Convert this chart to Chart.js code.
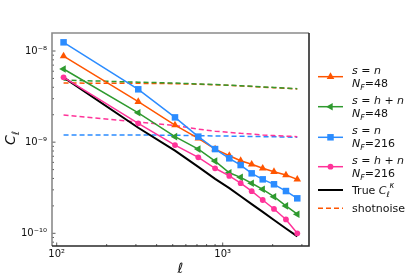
<!DOCTYPE html>
<html>
<head>
<meta charset="utf-8">
<script src="https://cdn.jsdelivr.net/npm/chart.js@4.4.1/dist/chart.umd.min.js"></script>
<style>
  html, body { margin: 0; padding: 0; background: #fff; }
  #wrap { width: 415px; height: 277px; position: relative; }
</style>
</head>
<body>
<div id="wrap"><canvas id="chart" width="415" height="277"></canvas></div>
<script>
// multipole bins
const ells = [110, 310, 516, 713, 900, 1096, 1283, 1495, 1742, 2037, 2405, 2814];

// estimated power spectra
const snNF48 = [8.8e-9, 2.78e-9, 1.54e-9, 1.10e-9, 8.4e-10, 7.1e-10, 6.26e-10, 5.72e-10, 5.17e-10, 4.74e-10, 4.36e-10, 3.91e-10];
const shnNF48 = [6.35e-9, 2.10e-9, 1.15e-9, 8.4e-10, 6.2e-10, 4.62e-10, 4.11e-10, 3.54e-10, 3.04e-10, 2.52e-10, 2.0e-10, 1.62e-10];
const snNF216 = [1.245e-8, 3.80e-9, 1.87e-9, 1.15e-9, 8.4e-10, 6.65e-10, 5.61e-10, 4.55e-10, 3.91e-10, 3.45e-10, 2.91e-10, 2.42e-10];
const shnNF216 = [5.14e-9, 1.61e-9, 9.3e-10, 6.82e-10, 5.17e-10, 4.26e-10, 3.55e-10, 2.9e-10, 2.32e-10, 1.85e-10, 1.42e-10, 1.0e-10];
const trueCl = [5.14e-9, 1.44e-9, 8.07e-10, 5.36e-10, 3.96e-10, 3.13e-10, 2.55e-10, 2.09e-10, 1.72e-10, 1.40e-10, 1.13e-10, 9.25e-11];

// shot noise levels
const noiseSnNF48 = [4.45e-9, 4.42e-9, 4.38e-9, 4.32e-9, 4.26e-9, 4.2e-9, 4.14e-9, 4.08e-9, 4.02e-9, 3.96e-9, 3.9e-9, 3.84e-9];
const noiseShnNF48 = [4.8e-9, 4.55e-9, 4.45e-9, 4.35e-9, 4.28e-9, 4.22e-9, 4.16e-9, 4.1e-9, 4.04e-9, 3.98e-9, 3.92e-9, 3.86e-9];
const noiseSnNF216 = [1.2e-9, 1.2e-9, 1.19e-9, 1.18e-9, 1.17e-9, 1.165e-9, 1.16e-9, 1.155e-9, 1.15e-9, 1.145e-9, 1.14e-9, 1.13e-9];
const noiseShnNF216 = [1.99e-9, 1.66e-9, 1.52e-9, 1.39e-9, 1.32e-9, 1.28e-9, 1.25e-9, 1.23e-9, 1.2e-9, 1.18e-9, 1.165e-9, 1.15e-9];

// tick labels
const xMajor = [100, 1000];
const xMajorLabels = ['10²', '10³'];
const xMinor = [200, 300, 400, 500, 600, 700, 800, 900, 2000, 3000];
const yMajor = [1e-8, 1e-9, 1e-10];
const yMajorLabels = ['10⁻⁸', '10⁻⁹', '10⁻¹⁰'];

const ORANGE = '#ff5500';
const GREEN = '#2f9a2f';
const BLUE = '#2b8cff';
const PINK = '#ff3399';

function pts(arr) {
    return ells.map((l, i) => ({x: l, y: arr[i]}));
}

function yMinorTicks() {
    let out = [];
    [1e-10, 1e-9].forEach(d => {
        for (let k = 2; k <= 9; k++) out.push(k * d);
    });
    out.push(8e-11, 9e-11);
    return out;
}

function solid(data, color, style, rot, r, order) {
    return {
        data: pts(data), borderColor: color, backgroundColor: color,
        borderWidth: 1.5, pointStyle: style, pointRotation: rot,
        pointRadius: r, pointBorderWidth: 0, tension: 0, order: order
    };
}
function dashed(data, color, order) {
    return {
        data: pts(data), borderColor: color, borderWidth: 1.5,
        borderDash: [5, 3], pointRadius: 0, tension: 0, order: order
    };
}

// draw mixed italic / sub / sup text
function rich(ctx, x, y, parts, size) {
    parts.forEach(p => {
        let s = (p.sub || p.sup) ? size * 0.72 : size;
        ctx.font = (p.i ? 'italic ' : '') + s + 'px "DejaVu Sans"';
        let dy = p.sub ? size * 0.28 : (p.sup ? -size * 0.42 : 0);
        ctx.fillText(p.t, x, y + dy);
        x += ctx.measureText(p.t).width;
    });
}

const legendItems = [
    {color: ORANGE, style: 'triangle', rot: 0, r: 4.4, l1: [{t: 's', i: 1}, {t: ' = '}, {t: 'n', i: 1}], l2: [{t: 'N', i: 1}, {t: 'F', i: 1, sub: 1}, {t: '=48'}], y: 76.7},
    {color: GREEN, style: 'triangle', rot: -90, r: 4.4, l1: [{t: 's', i: 1}, {t: ' = '}, {t: 'h', i: 1}, {t: ' + '}, {t: 'n', i: 1}], l2: [{t: 'N', i: 1}, {t: 'F', i: 1, sub: 1}, {t: '=48'}], y: 106.7},
    {color: BLUE, style: 'rect', rot: 0, r: 4.6, l1: [{t: 's', i: 1}, {t: ' = '}, {t: 'n', i: 1}], l2: [{t: 'N', i: 1}, {t: 'F', i: 1, sub: 1}, {t: '=216'}], y: 137.3},
    {color: PINK, style: 'circle', rot: 0, r: 2.9, l1: [{t: 's', i: 1}, {t: ' = '}, {t: 'h', i: 1}, {t: ' + '}, {t: 'n', i: 1}], l2: [{t: 'N', i: 1}, {t: 'F', i: 1, sub: 1}, {t: '=216'}], y: 166.7}
];

const decor = {
    id: 'decor',
    afterDraw(chart) {
        const ctx = chart.ctx;
        const a = chart.chartArea;
        const xs = chart.scales.x, ys = chart.scales.y;
        ctx.save();
        // inward ticks
        ctx.strokeStyle = '#333';
        ctx.lineWidth = 0.8;
        ctx.beginPath();
        xMajor.forEach(v => { let p = xs.getPixelForValue(v); ctx.moveTo(p, a.bottom); ctx.lineTo(p, a.bottom - 3.5); });
        xMinor.forEach(v => { let p = xs.getPixelForValue(v); ctx.moveTo(p, a.bottom); ctx.lineTo(p, a.bottom - 2); });
        yMajor.forEach(v => { let p = ys.getPixelForValue(v); ctx.moveTo(a.left, p); ctx.lineTo(a.left + 3.5, p); });
        yMinorTicks().forEach(v => { let p = ys.getPixelForValue(v); if (p > a.top && p < a.bottom) { ctx.moveTo(a.left, p); ctx.lineTo(a.left + 2, p); } });
        ctx.stroke();
        // frame
        ctx.lineWidth = 1.6;
        ctx.strokeStyle = '#8a8a8a';
        ctx.beginPath();
        ctx.moveTo(a.left, a.bottom); ctx.lineTo(a.left, a.top); ctx.lineTo(a.right, a.top);
        ctx.stroke();
        ctx.strokeStyle = '#2a2a2a';
        ctx.beginPath();
        ctx.moveTo(a.right, a.top); ctx.lineTo(a.right, a.bottom); ctx.lineTo(a.left, a.bottom);
        ctx.stroke();

        // axis titles
        ctx.fillStyle = '#111';
        ctx.textBaseline = 'alphabetic';
        ctx.textAlign = 'left';
        ctx.font = 'italic 14px "DejaVu Sans"';
        let w = ctx.measureText('ℓ').width;
        ctx.fillText('ℓ', (a.left + a.right) / 2 - w / 2, 273);
        ctx.save();
        ctx.translate(15, 145);
        ctx.rotate(-Math.PI / 2);
        rich(ctx, 0, 0, [{t: 'C', i: 1}, {t: 'ℓ', i: 1, sub: 1}], 14);
        ctx.restore();

        // legend
        const x0 = 318, x1 = 343, tx = 352, fs = 11;
        legendItems.forEach(it => {
            ctx.strokeStyle = it.color;
            ctx.lineWidth = 1.5;
            ctx.setLineDash([]);
            ctx.beginPath(); ctx.moveTo(x0, it.y); ctx.lineTo(x1, it.y); ctx.stroke();
            ctx.fillStyle = it.color;
            Chart.helpers.drawPoint(ctx, {pointStyle: it.style, rotation: it.rot, radius: it.r, borderWidth: 0}, (x0 + x1) / 2, it.y);
            ctx.fillStyle = '#111';
            rich(ctx, tx, it.y - 3.2, it.l1, fs);
            rich(ctx, tx, it.y + 9.8, it.l2, fs);
        });
        ctx.strokeStyle = '#000';
        ctx.lineWidth = 2;
        ctx.beginPath(); ctx.moveTo(x0, 190); ctx.lineTo(x1, 190); ctx.stroke();
        ctx.fillStyle = '#111';
        rich(ctx, tx, 194, [{t: 'True '}, {t: 'C', i: 1}, {t: 'ℓ', i: 1, sub: 1}], fs);
        ctx.font = 'italic 8px "DejaVu Sans"';
        ctx.fillText('κ', tx + 37.5, 188);
        ctx.strokeStyle = ORANGE;
        ctx.lineWidth = 1.5;
        ctx.setLineDash([5, 3]);
        ctx.beginPath(); ctx.moveTo(x0, 208.3); ctx.lineTo(x1, 208.3); ctx.stroke();
        ctx.setLineDash([]);
        ctx.font = fs + 'px "DejaVu Sans"';
        ctx.fillText('shotnoise', tx, 212.3);
        ctx.restore();
    }
};

new Chart(document.getElementById('chart').getContext('2d'), {
    type: 'line',
    data: {
        datasets: [
            solid(shnNF216, PINK, 'circle', 0, 2.9, 1),
            solid(snNF216, BLUE, 'rect', 0, 4.6, 2),
            solid(shnNF48, GREEN, 'triangle', -90, 4.4, 3),
            solid(snNF48, ORANGE, 'triangle', 0, 4.4, 4),
            {data: pts(trueCl), borderColor: '#000', borderWidth: 2, pointRadius: 0, tension: 0, order: 5},
            dashed(noiseShnNF48, GREEN, 6),
            dashed(noiseSnNF48, ORANGE, 7),
            dashed(noiseShnNF216, PINK, 8),
            dashed(noiseSnNF216, BLUE, 9)
        ]
    },
    options: {
        responsive: false,
        animation: false,
        layout: {padding: {left: 0, right: 106, top: 33, bottom: 0}},
        plugins: {legend: {display: false}, tooltip: {enabled: false}},
        scales: {
            x: {
                type: 'logarithmic', min: 93.7, max: 3311,
                grid: {display: false, drawTicks: false, tickLength: 0}, border: {display: false},
                afterBuildTicks: s => { s.ticks = xMajor.map(v => ({value: v})); },
                afterFit: s => { s.height = 31; },
                ticks: {
                    autoSkip: false, maxRotation: 0, padding: 2, color: '#111',
                    font: {family: 'DejaVu Sans', size: 10},
                    callback: (v) => xMajorLabels[xMajor.indexOf(v)]
                }
            },
            y: {
                type: 'logarithmic', min: 7.26e-11, max: 1.576e-8,
                grid: {display: false, drawTicks: false, tickLength: 0}, border: {display: false},
                afterBuildTicks: s => { s.ticks = yMajor.map(v => ({value: v})); },
                afterFit: s => { s.width = 52; },
                ticks: {
                    autoSkip: false, padding: 5, color: '#111',
                    font: {family: 'DejaVu Sans', size: 10},
                    callback: (v) => yMajorLabels[yMajor.indexOf(v)]
                }
            }
        }
    },
    plugins: [decor]
});
</script>
</body>
</html>
